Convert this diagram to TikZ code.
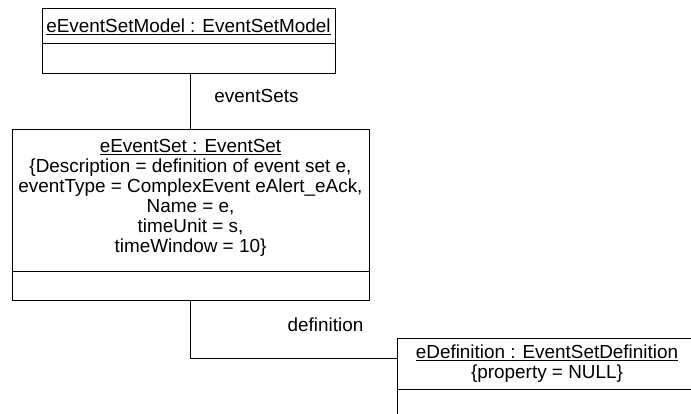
\documentclass[tikz,border=0pt]{standalone}
\usepackage{fontspec}
\setmainfont{Liberation Sans}
\usepackage{tikz}
\usetikzlibrary{positioning}

\begin{document}
\begin{tikzpicture}[x=1pt,y=-1pt]
	\tikzstyle{compartment}=[draw=black, line width=0.9pt, inner sep=0pt, outer sep=0pt]
	\tikzstyle{objtext}=[align=center, inner sep=0pt, font=\fontsize{18.9}{20}\selectfont]
	\tikzstyle{rolename}=[inner sep=0pt, font=\fontsize{18.9}{20}\selectfont]
	\tikzstyle{link}=[draw=black, line width=0.8pt]
	\useasboundingbox (0,0) rectangle (691,414);
	% eEventSetModel
	\node[compartment, minimum width=293pt, minimum height=35pt](model) at (188.5,25.5) {};
	\node[compartment, minimum width=293pt, minimum height=30pt, below=0pt of model](modelops) {};
	\node[objtext](modellabel) at (188.5,26.5) {\underline{eEventSetModel : EventSetModel}};
	% eEventSet
	\node[compartment, minimum width=357pt, minimum height=142pt](set) at (190.5,200) {};
	\node[compartment, minimum width=357pt, minimum height=29pt, below=0pt of set](setops) {};
	\node[objtext, below=10pt of set.north](setlabel) {\underline{eEventSet : EventSet}\\
		\{Description = definition of event set e,\\
		eventType = ComplexEvent eAlert\_eAck,\\
		Name = e,\\
		timeUnit = s,\\
		timeWindow = 10\}};
	% eDefinition
	\node[compartment, minimum width=320pt, minimum height=51pt](defn) at (557,363.5) {};
	\node[compartment, minimum width=320pt, minimum height=30pt, below=0pt of defn](defnops) {};
	\node[objtext](defnlabel) at (547,364) {\underline{eDefinition : EventSetDefinition}\\ \{property = NULL\}};
	% links
	\draw[link] ([xshift=1.5pt]modelops.south) -- ++(0,24) -| (set.north);
	\draw[link] (setops.south) |- ([yshift=5.5pt]defn.west);
	\node[rolename](setsrole) at (256.5,96) {eventSets};
	\node[rolename](defnrole) at (325.5,325) {definition};
\end{tikzpicture}
\end{document}
